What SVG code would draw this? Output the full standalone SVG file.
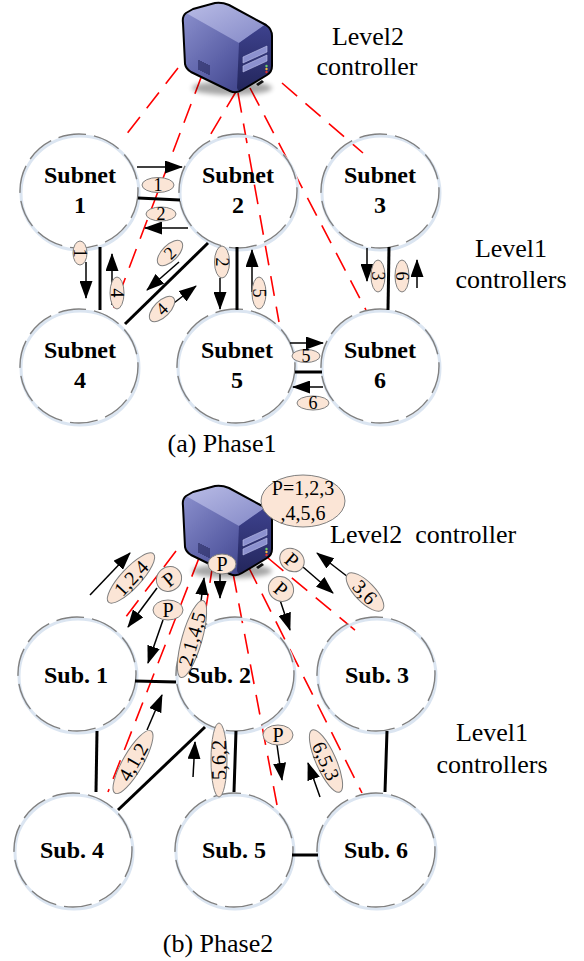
<svg xmlns="http://www.w3.org/2000/svg" xmlns:xlink="http://www.w3.org/1999/xlink" width="584" height="961" viewBox="0 0 584 961">
  <style>
    .sub { fill: none; stroke: #808080; stroke-width: 1.4; stroke-dasharray: 28 8; }
    .halo { fill: none; stroke: #dbe5f1; stroke-width: 3; }
    .ctl { fill: none; stroke: #ff0000; stroke-width: 1.6; stroke-dasharray: 20 11; }
    .link { stroke: #000; stroke-width: 3; fill: none; }
    .arr { stroke: #000; stroke-width: 1.5; fill: none; marker-end: url(#head); }
    .tag { fill: #fbe5d6; stroke: #7f7f7f; stroke-width: 1; }
    .txt { font-family: "Liberation Serif", "Times New Roman", serif; fill: #000; text-anchor: middle; }
    .name { font-weight: bold; font-size: 24px; }
    .big { font-size: 26px; }
    .d1 { font-size: 18px; }
    .d2 { font-size: 20px; }
  </style>
  <defs>
    <marker id="head" markerUnits="userSpaceOnUse" markerWidth="18" markerHeight="13" refX="17" refY="6.5" orient="auto">
      <path d="M0,0 L18,6.5 L0,13 Z" fill="#000"/>
    </marker>
    <filter id="soft" x="-30%" y="-100%" width="160%" height="300%">
      <feGaussianBlur stdDeviation="2.5"/>
    </filter>
    <linearGradient id="topFace" x1="0" y1="0" x2="1" y2="1">
      <stop offset="0" stop-color="#b9bce6"/>
      <stop offset="1" stop-color="#8489c7"/>
    </linearGradient>
    <linearGradient id="sideFace" x1="0" y1="0" x2="1" y2="1">
      <stop offset="0" stop-color="#8f94d0"/>
      <stop offset="0.55" stop-color="#5a5fa6"/>
      <stop offset="1" stop-color="#30347a"/>
    </linearGradient>
    <linearGradient id="frontFace" x1="0" y1="0" x2="0" y2="1">
      <stop offset="0" stop-color="#3e428e"/>
      <stop offset="1" stop-color="#23265c"/>
    </linearGradient>
    <!-- tower server icon, drawn at the top position -->
    <g id="server-icon">
      <ellipse cx="232" cy="88" rx="40" ry="7" fill="#000" opacity="0.35" filter="url(#soft)"/>
      <path d="M186,13 Q182,16 183,23 L185,64 Q186,69 191,72 L230,91 Q236,94 242,90 L267,75 Q272,72 272,66 L272,36 Q272,29 266,25 L229,5 Q222,2 215,3 L193,9 Z" fill="url(#sideFace)"/>
      <path d="M186,13 L193,9 L215,3 Q222,2 229,5 L266,24 L239,43 Z" fill="url(#topFace)"/>
      <path d="M239,43 L266,24 Q272,29 272,36 L272,66 Q272,72 267,75 L242,90 Q238,92 237,88 Z" fill="url(#frontFace)"/>
      <path d="M243,57 L267,46 L267,52 L243,63 Z" fill="#8c91cf" stroke="#c3c6ee" stroke-width="0.6"/>
      <path d="M243,66 L267,55 L267,61 L243,72 Z" fill="#8c91cf" stroke="#c3c6ee" stroke-width="0.6"/>
      <circle cx="266.5" cy="66" r="1.2" fill="#6cd36c"/>
      <circle cx="266.5" cy="69" r="1.2" fill="#f0c040"/>
      <circle cx="266.5" cy="72" r="1.2" fill="#e03030"/>
      <g stroke="#1c1f50" stroke-width="1">
        <line x1="199" y1="60" x2="199" y2="70"/>
        <line x1="201" y1="61" x2="201" y2="71"/>
        <line x1="203" y1="62" x2="203" y2="72"/>
        <line x1="205" y1="63" x2="205" y2="73"/>
        <line x1="207" y1="64" x2="207" y2="74"/>
        <line x1="209" y1="65" x2="209" y2="75"/>
      </g>
      <path d="M256,84 L262,80 L264,82 L258,86 Z" fill="#111"/>
      <path d="M186,13 Q182,16 183,23 L185,64 Q186,69 191,72 L230,91 Q236,94 242,90 L267,75 Q272,72 272,66 L272,36 Q272,29 266,25 L229,5 Q222,2 215,3 L193,9 Z" fill="none" stroke="#000" stroke-width="2" stroke-linejoin="round"/>
    </g>
  </defs>

  <rect width="584" height="961" fill="#fff"/>

  <!-- ===== Phase 1 ===== -->
  <g id="p1-control-lines">
    <line class="ctl" x1="178" y1="68" x2="122" y2="140"/>
    <line class="ctl" x1="202" y1="75" x2="114" y2="308"/>
    <line class="ctl" x1="237" y1="90" x2="206" y2="142"/>
    <line class="ctl" x1="238" y1="93" x2="279" y2="322"/>
    <line class="ctl" x1="250" y1="88" x2="366" y2="310"/>
    <line class="ctl" x1="282" y1="83" x2="363" y2="153"/>
  </g>

  <g id="p1-level2">
    <use xlink:href="#server-icon"/>
    <text class="txt big" x="368" y="45">Level2</text>
    <text class="txt big" x="367" y="75">controller</text>
  </g>

  <g id="p1-subnet1">
    <ellipse class="halo" cx="80" cy="193" rx="59" ry="57"/>
    <ellipse class="sub" cx="79" cy="191" rx="59" ry="57"/>
    <text class="txt name" x="80" y="183">Subnet</text>
    <text class="txt name" x="80" y="213">1</text>
  </g>
  <g id="p1-subnet2">
    <ellipse class="halo" cx="239" cy="193" rx="59" ry="57"/>
    <ellipse class="sub" cx="238" cy="191" rx="59" ry="57"/>
    <text class="txt name" x="238" y="183">Subnet</text>
    <text class="txt name" x="238" y="213">2</text>
  </g>
  <g id="p1-subnet3">
    <ellipse class="halo" cx="381" cy="193" rx="59" ry="57"/>
    <ellipse class="sub" cx="380" cy="191" rx="59" ry="57"/>
    <text class="txt name" x="380" y="183">Subnet</text>
    <text class="txt name" x="380" y="213">3</text>
  </g>
  <g id="p1-subnet4">
    <ellipse class="halo" cx="80" cy="368" rx="59" ry="57"/>
    <ellipse class="sub" cx="79" cy="366" rx="59" ry="57"/>
    <text class="txt name" x="80" y="358">Subnet</text>
    <text class="txt name" x="80" y="388">4</text>
  </g>
  <g id="p1-subnet5">
    <ellipse class="halo" cx="237" cy="368" rx="59" ry="57"/>
    <ellipse class="sub" cx="236" cy="366" rx="59" ry="57"/>
    <text class="txt name" x="237" y="358">Subnet</text>
    <text class="txt name" x="237" y="388">5</text>
  </g>
  <g id="p1-subnet6">
    <ellipse class="halo" cx="381" cy="368" rx="59" ry="57"/>
    <ellipse class="sub" cx="380" cy="366" rx="59" ry="57"/>
    <text class="txt name" x="380" y="358">Subnet</text>
    <text class="txt name" x="380" y="388">6</text>
  </g>

  <g id="p1-connectors">
    <line class="link" x1="138" y1="198" x2="180" y2="200"/>
    <line class="link" x1="100" y1="247" x2="100" y2="310"/>
    <line class="link" x1="208" y1="243" x2="125" y2="324"/>
    <line class="link" x1="237" y1="247" x2="237" y2="310"/>
    <line class="link" x1="389" y1="247" x2="388" y2="310"/>
    <line class="link" x1="295" y1="372" x2="322" y2="372"/>

    <line class="arr" x1="137" y1="167" x2="182" y2="167"/>
    <line class="arr" x1="188" y1="228" x2="145" y2="228"/>
    <line class="arr" x1="86" y1="262" x2="86" y2="298"/>
    <line class="arr" x1="112" y1="305" x2="112" y2="254"/>
    <line class="arr" x1="179" y1="262" x2="147" y2="290"/>
    <line class="arr" x1="170" y1="306" x2="196" y2="286"/>
    <line class="arr" x1="220" y1="278" x2="220" y2="309"/>
    <line class="arr" x1="252" y1="292" x2="252" y2="250"/>
    <line class="arr" x1="367" y1="248" x2="367" y2="281"/>
    <line class="arr" x1="417" y1="288" x2="417" y2="260"/>
    <line class="arr" x1="290" y1="343" x2="323" y2="343"/>
    <line class="arr" x1="323" y1="387" x2="293" y2="387"/>
  </g>

  <g id="p1-tags">
    <g transform="translate(158,185)"><ellipse class="tag" rx="16" ry="7.5"/><text class="txt d1" y="6">1</text></g>
    <g transform="translate(161,214)"><ellipse class="tag" rx="15" ry="7"/><text class="txt d1" y="6">2</text></g>
    <g transform="translate(80,253) rotate(90)"><ellipse class="tag" rx="12" ry="7"/><text class="txt d1" y="6">1</text></g>
    <g transform="translate(117,293) rotate(90)"><ellipse class="tag" rx="16" ry="7"/><text class="txt d1" y="6">4</text></g>
    <g transform="translate(170,253) rotate(-45)"><ellipse class="tag" rx="16" ry="8"/><text class="txt d1" y="6">2</text></g>
    <g transform="translate(162,309) rotate(-45)"><ellipse class="tag" rx="16" ry="8"/><text class="txt d1" y="6">4</text></g>
    <g transform="translate(222,262) rotate(90)"><ellipse class="tag" rx="16" ry="7.5"/><text class="txt d1" y="6">2</text></g>
    <g transform="translate(259,293) rotate(90)"><ellipse class="tag" rx="16" ry="7"/><text class="txt d1" y="6">5</text></g>
    <g transform="translate(378,276) rotate(90)"><ellipse class="tag" rx="16" ry="7"/><text class="txt d1" y="6">3</text></g>
    <g transform="translate(402,276) rotate(90)"><ellipse class="tag" rx="16" ry="7"/><text class="txt d1" y="6">6</text></g>
    <g transform="translate(306,356)"><ellipse class="tag" rx="14" ry="6.5"/><text class="txt d1" y="6">5</text></g>
    <g transform="translate(313,403)"><ellipse class="tag" rx="16" ry="7"/><text class="txt d1" y="6">6</text></g>
  </g>

  <g id="p1-level1-label">
    <text class="txt big" x="511" y="257">Level1</text>
    <text class="txt big" x="511" y="288">controllers</text>
  </g>
  <text class="txt big" x="222" y="452">(a) Phase1</text>

  <!-- ===== Phase 2 ===== -->
  <g id="p2-control-lines">
    <line class="ctl" x1="176" y1="551" x2="122" y2="622"/>
    <line class="ctl" x1="199" y1="558" x2="108" y2="792"/>
    <line class="ctl" x1="213" y1="563" x2="203" y2="627"/>
    <line class="ctl" x1="233" y1="573" x2="277" y2="805"/>
    <line class="ctl" x1="248" y1="566" x2="362" y2="793"/>
    <line class="ctl" x1="268" y1="558" x2="362" y2="636"/>
  </g>

  <g id="p2-level2">
    <use xlink:href="#server-icon" transform="translate(0,483)"/>
    <text class="txt big" x="330" y="543" style="text-anchor:start" xml:space="preserve">Level2  controller</text>
  </g>

  <g id="p2-sub1">
    <ellipse class="halo" cx="78" cy="676" rx="59" ry="57"/>
    <ellipse class="sub" cx="77" cy="674" rx="59" ry="57"/>
    <text class="txt name" x="76" y="683">Sub. 1</text>
  </g>
  <g id="p2-sub2">
    <ellipse class="halo" cx="236" cy="676" rx="59" ry="57"/>
    <ellipse class="sub" cx="235" cy="674" rx="59" ry="57"/>
    <text class="txt name" x="219" y="683">Sub. 2</text>
  </g>
  <g id="p2-sub3">
    <ellipse class="halo" cx="377" cy="676" rx="59" ry="57"/>
    <ellipse class="sub" cx="376" cy="674" rx="59" ry="57"/>
    <text class="txt name" x="377" y="683">Sub. 3</text>
  </g>
  <g id="p2-sub4">
    <ellipse class="halo" cx="74" cy="852" rx="59" ry="57"/>
    <ellipse class="sub" cx="73" cy="850" rx="59" ry="57"/>
    <text class="txt name" x="72" y="858">Sub. 4</text>
  </g>
  <g id="p2-sub5">
    <ellipse class="halo" cx="235" cy="852" rx="59" ry="57"/>
    <ellipse class="sub" cx="234" cy="850" rx="59" ry="57"/>
    <text class="txt name" x="234" y="858">Sub. 5</text>
  </g>
  <g id="p2-sub6">
    <ellipse class="halo" cx="377" cy="852" rx="59" ry="57"/>
    <ellipse class="sub" cx="376" cy="850" rx="59" ry="57"/>
    <text class="txt name" x="376" y="858">Sub. 6</text>
  </g>

  <g id="p2-connectors">
    <line class="link" x1="135" y1="681" x2="176" y2="682"/>
    <line class="link" x1="97" y1="731" x2="96" y2="792"/>
    <line class="link" x1="205" y1="727" x2="118" y2="810"/>
    <line class="link" x1="236" y1="731" x2="234" y2="792"/>
    <line class="link" x1="387" y1="731" x2="385" y2="792"/>
    <line class="link" x1="292" y1="855" x2="318" y2="855"/>

    <line class="arr" x1="90" y1="595" x2="130" y2="553"/>
    <line class="arr" x1="157" y1="588" x2="128" y2="627"/>
    <line class="arr" x1="163" y1="620" x2="148" y2="663"/>
    <line class="arr" x1="196" y1="640" x2="204" y2="578"/>
    <line class="arr" x1="220" y1="572" x2="220" y2="598"/>
    <line class="arr" x1="303" y1="567" x2="333" y2="593"/>
    <line class="arr" x1="348" y1="577" x2="317" y2="553"/>
    <line class="arr" x1="280" y1="600" x2="290" y2="630"/>
    <line class="arr" x1="147" y1="730" x2="162" y2="695"/>
    <line class="arr" x1="193" y1="777" x2="195" y2="742"/>
    <line class="arr" x1="277" y1="745" x2="282" y2="780"/>
    <line class="arr" x1="320" y1="797" x2="308" y2="763"/>
  </g>

  <g id="p2-tags">
    <g transform="translate(303,501)"><ellipse class="tag" rx="42" ry="26"/>
      <text class="txt d2" y="-6">P=1,2,3</text><text class="txt d2" y="19">,4,5,6</text></g>
    <g transform="translate(131,578) rotate(-47)"><ellipse class="tag" rx="33" ry="10"/><text class="txt d2" y="7">1,2,4</text></g>
    <g transform="translate(169,579) rotate(-40)"><ellipse class="tag" rx="13" ry="12"/><text class="txt d2" y="7">P</text></g>
    <g transform="translate(168,610)"><ellipse class="tag" rx="15" ry="10"/><text class="txt d2" y="7">P</text></g>
    <g transform="translate(192,639) rotate(-74)"><ellipse class="tag" rx="40" ry="10"/><text class="txt d2" y="7">2,1,4,5</text></g>
    <g transform="translate(222,564)"><ellipse class="tag" rx="14" ry="10"/><text class="txt d2" y="7">P</text></g>
    <g transform="translate(292,560) rotate(40)"><ellipse class="tag" rx="13" ry="11"/><text class="txt d2" y="7">P</text></g>
    <g transform="translate(281,589) rotate(40)"><ellipse class="tag" rx="13" ry="12"/><text class="txt d2" y="7">P</text></g>
    <g transform="translate(365,592) rotate(46)"><ellipse class="tag" rx="25" ry="10"/><text class="txt d2" y="7">3,6</text></g>
    <g transform="translate(133,762) rotate(-60)"><ellipse class="tag" rx="36" ry="10"/><text class="txt d2" y="7">4,1,2</text></g>
    <g transform="translate(219,760) rotate(-90)"><ellipse class="tag" rx="37" ry="8"/><text class="txt d2" y="7">5,6,2</text></g>
    <g transform="translate(278,735)"><ellipse class="tag" rx="15" ry="10"/><text class="txt d2" y="7">P</text></g>
    <g transform="translate(326,761) rotate(66)"><ellipse class="tag" rx="34" ry="10"/><text class="txt d2" y="7">6,5,3</text></g>
  </g>

  <g id="p2-level1-label">
    <text class="txt big" x="492" y="741">Level1</text>
    <text class="txt big" x="492" y="773">controllers</text>
  </g>
  <text class="txt big" x="218" y="952">(b) Phase2</text>
</svg>
